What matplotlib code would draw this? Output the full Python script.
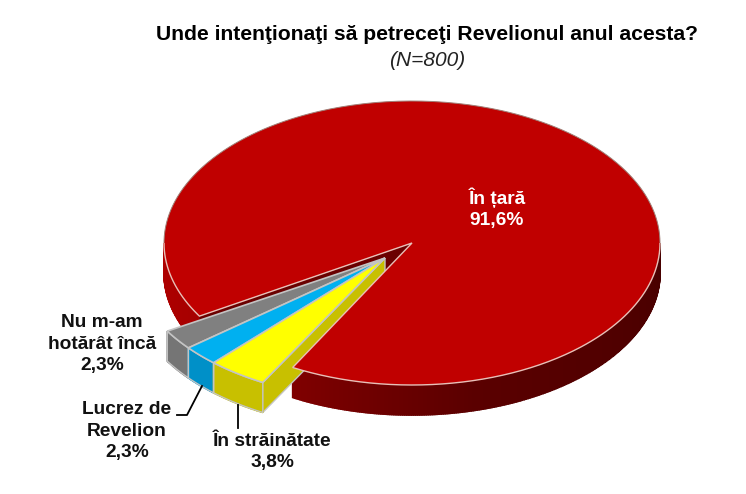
import numpy as np
import matplotlib
matplotlib.use("Agg")
import matplotlib.pyplot as plt
from matplotlib.patches import Polygon
from matplotlib.colors import to_rgb

plt.rcParams['font.family'] = ['Liberation Sans', 'DejaVu Sans']

# data
labels = ["În țară", "Nu m-am\nhotărât încă", "Lucrez de\nRevelion", "În străinătate"]
values = [91.6, 2.3, 2.3, 3.8]
shown = ["91,6%", "2,3%", "2,3%", "3,8%"]
title = "Unde intenţionaţi să petreceţi Revelionul anul acesta?"
subtitle = "(N=800)"

# pie layout, in pixels of the 746x494 picture
cx, cy = 412, 243
rx, ry = 248, 142
rx_small = 254
depth = 30
shift = (-27, 15)
# the small slices start here, angles run counter-clockwise with y up
start_small = 211.0

top_colors = ["#c00000", "#808080", "#00b0f0", "#ffff00"]
side_colors = ["#7a0000", "#757575", "#0090c8", "#c8c000"]
edge_main = "#e8c0b8"
edge_small = "#c4c4c4"


def rim_point(a, off=(0, 0), rad=None):
    r = np.radians(a)
    return cx + off[0] + (rad or rx) * np.cos(r), cy + off[1] - ry * np.sin(r)


def arc(a1, a2, off=(0, 0), n=200, rad=None):
    return [rim_point(a, off, rad) for a in np.linspace(a1, a2, n)]


def mix(c1, c2, t):
    c1, c2 = np.array(to_rgb(c1)), np.array(to_rgb(c2))
    return tuple(c1 + (c2 - c1) * t)


def rim_band(ax, a1, a2, color_at, off=(0, 0), z=1, rad=None):
    # outer wall as thin quads so the shade can change along it
    steps = max(int(abs(a2 - a1) * 2), 4)
    angs = np.linspace(a1, a2, steps + 1)
    for i in range(steps):
        x1, y1 = rim_point(angs[i], off, rad)
        x2, y2 = rim_point(angs[i + 1], off, rad)
        c = color_at((angs[i] + angs[i + 1]) / 2)
        ax.add_patch(Polygon([(x1, y1), (x2, y2), (x2, y2 + depth), (x1, y1 + depth)],
                             closed=True, fc=c, ec=c, lw=1.2, zorder=z))


def main_shade(a):
    # bright at the left, dark from the bottom on to the right
    if a < 241:
        return mix("#b00000", "#9c0000", (a - 180) / 61)
    if a < 285:
        return mix("#800000", "#5a0000", (a - 241) / 44)
    return mix("#5a0000", "#480000", (a - 285) / 75)


fig = plt.figure(figsize=(7.46, 4.94), dpi=100)
ax = fig.add_axes([0, 0, 1, 1])
ax.set_xlim(0, 746)
ax.set_ylim(494, 0)
ax.axis("off")

sweeps = [v / sum(values) * 360 for v in values]
a_gray = start_small
a_blue = a_gray + sweeps[1]
a_yellow = a_blue + sweeps[2]
a_end = a_yellow + sweeps[3]

# main slice: walls first, top surface last so it hides what lies behind it
rim_band(ax, 180, a_gray, main_shade, z=1)
rim_band(ax, a_end, 360, main_shade, z=1)
ox, oy = rim_point(a_gray)
ax.add_patch(Polygon([(cx, cy), (ox, oy), (ox, oy + depth), (cx, cy + depth)],
                     closed=True, fc="#6a0000", ec="none", zorder=2))

# cut face of the yellow slice
yx, yy = rim_point(a_end, shift, rx_small)
ax0, ay0 = cx + shift[0], cy + shift[1]
ax.add_patch(Polygon([(ax0, ay0), (yx, yy), (yx, yy + depth), (ax0, ay0 + depth)],
                     closed=True, fc=side_colors[3], ec=edge_small, lw=1.0, zorder=3))

main_top = [(cx, cy)] + arc(a_end, a_gray + 360, n=500)
ax.add_patch(Polygon(main_top, closed=True, fc=top_colors[0], ec="none", zorder=4))
# light outline on the cut edges and front of the pie, a faint one along the back
ax.add_patch(Polygon(arc(0, 180, n=200), closed=False, fc="none", ec="#a08078", lw=0.7, zorder=4))
for part in (arc(180, a_gray, n=40) + [(cx, cy)] + arc(a_end, 360, n=200),):
    ax.add_patch(Polygon(part, closed=False, fc="none", ec=edge_main, lw=1.0, zorder=4))

# exploded slices
bounds = [a_gray, a_blue, a_yellow, a_end]
for i in range(3):
    a1, a2 = bounds[i], bounds[i + 1]
    side = side_colors[i + 1]
    rim_band(ax, a1, a2, lambda a, s=side: s, off=shift, z=5, rad=rx_small)
    pts = arc(a1, a2, shift, n=30, rad=rx_small)
    low = [(x, y + depth) for x, y in pts[::-1]]
    ax.add_patch(Polygon(pts + low, closed=True, fc="none", ec=edge_small, lw=1.0, zorder=6))
    ax.add_patch(Polygon([(ax0, ay0)] + pts, closed=True, fc=top_colors[i + 1],
                         ec=edge_small, lw=1.2, zorder=7))

# leader lines
ax.plot([177, 187, 202], [415, 415, 386], color="black", lw=1.3, zorder=8)
ax.plot([238, 238], [405, 428], color="black", lw=1.3, zorder=8)

# text
ax.text(427, 34, title, ha="center", va="center", fontsize=15.2, fontweight="bold", color="black", zorder=9)
ax.text(427, 60, subtitle, ha="center", va="center", fontsize=15, style="italic", color="#222222", zorder=9)

lab = dict(ha="center", va="center", fontsize=13.8, fontweight="bold", linespacing=1.32, zorder=9)
ax.text(497, 208, f"{labels[0]}\n{shown[0]}", color="white", **lab)
ax.text(102, 344, f"{labels[1]}\n{shown[1]}", color="#111111", **lab)
ax.text(127, 431, f"{labels[2]}\n{shown[2]}", color="#111111", **lab)
ax.text(272, 452, f"{labels[3]}\n{shown[3]}", color="#111111", **lab)

fig.savefig("out.png", dpi=100, facecolor="white")
